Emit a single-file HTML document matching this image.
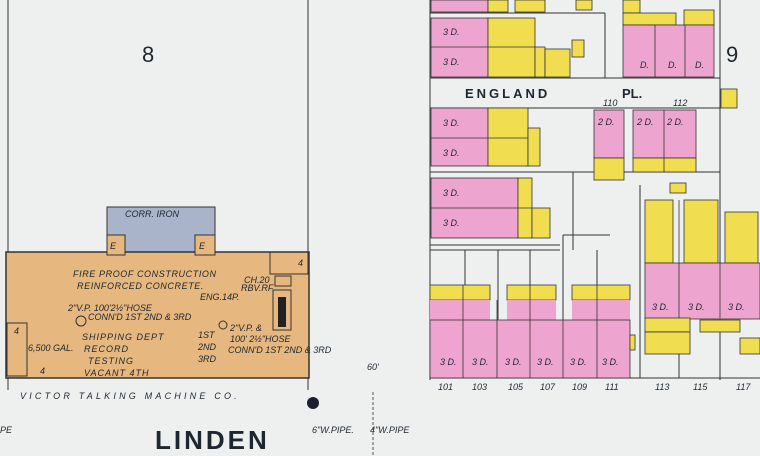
<!DOCTYPE html>
<html><head><meta charset="utf-8"><style>
html,body{margin:0;padding:0;background:#eef0ef;}
svg{display:block}
text{font-family:"Liberation Sans",sans-serif;fill:#1e2630}
.i{font-style:italic;font-size:9px}
</style></head><body>
<svg width="760" height="456" viewBox="0 0 760 456" xmlns="http://www.w3.org/2000/svg">
<rect width="760" height="456" fill="#eef0ef"/>
<g stroke="#333" stroke-width="1" fill="none">
<line x1="8" y1="0" x2="8" y2="390"/>
<line x1="308" y1="0" x2="308" y2="390"/>
<line x1="430" y1="0" x2="430" y2="380"/>
<line x1="720" y1="0" x2="720" y2="380"/>
<line x1="430" y1="13" x2="605" y2="13"/>
<line x1="605" y1="13" x2="605" y2="78"/>
<line x1="430" y1="78" x2="720" y2="78"/>
<line x1="430" y1="108" x2="720" y2="108"/>
<line x1="430" y1="172" x2="720" y2="172"/>
<line x1="573" y1="172" x2="573" y2="250"/>
<line x1="430" y1="245" x2="560" y2="245"/>
<line x1="430" y1="250" x2="560" y2="250"/>
<line x1="563" y1="235" x2="563" y2="250"/>
<line x1="563" y1="235" x2="610" y2="235"/>
<line x1="640" y1="185" x2="640" y2="378"/>
<line x1="679" y1="300" x2="679" y2="378"/>
<line x1="720" y1="300" x2="720" y2="378"/>
<line x1="430" y1="378" x2="760" y2="378"/>
<line x1="465" y1="250" x2="465" y2="285"/>
<line x1="498" y1="250" x2="498" y2="320"/>
<line x1="530" y1="250" x2="530" y2="285"/>
<line x1="563" y1="250" x2="563" y2="320"/>
<line x1="597" y1="250" x2="597" y2="285"/>
</g>
<!-- factory -->
<rect x="107" y="207" width="108" height="46" fill="#a9b3c9" stroke="#333"/>
<rect x="6" y="252" width="303" height="126" fill="#e6b77e" stroke="#333" stroke-width="1.5"/>
<rect x="107" y="235" width="18" height="20" fill="#e6b77e" stroke="#333"/>
<rect x="195" y="235" width="20" height="20" fill="#e6b77e" stroke="#333"/>
<rect x="7" y="323" width="20" height="53" fill="#e6b77e" stroke="#333"/>
<rect x="270" y="252" width="38" height="22" fill="none" stroke="#333"/>
<rect x="275" y="276" width="16" height="10" fill="#e6b77e" stroke="#333"/>
<rect x="273" y="290" width="18" height="40" fill="#e6b77e" stroke="#333"/>
<rect x="278" y="297" width="8" height="30" fill="#222"/>
<circle cx="313" cy="403" r="6" fill="#1a2030"/>
<circle cx="81" cy="321" r="5" fill="none" stroke="#333"/>
<circle cx="223" cy="325" r="4" fill="none" stroke="#333"/>
<text x="142" y="62" font-size="22">8</text>
<text x="726" y="62" font-size="22">9</text>
<text class="i" x="125" y="217">CORR. IRON</text>
<text class="i" x="110" y="249" font-size="10">E</text>
<text class="i" x="199" y="249" font-size="10">E</text>
<text class="i" x="73" y="277" font-size="10" letter-spacing="0.6">FIRE PROOF CONSTRUCTION</text>
<text class="i" x="77" y="289" font-size="10" letter-spacing="0.6">REINFORCED CONCRETE.</text>
<text class="i" x="200" y="300">ENG.14P.</text>
<text class="i" x="244" y="283" font-size="7">CH.20</text>
<text class="i" x="241" y="291" font-size="7">RBV.RF</text>
<text class="i" x="68" y="311" font-size="8">2"V.P. 100'2½"HOSE</text>
<text class="i" x="88" y="320" font-size="8">CONN'D 1ST 2ND &amp; 3RD</text>
<text class="i" x="82" y="340" font-size="11" letter-spacing="1">SHIPPING DEPT</text>
<text class="i" x="84" y="352" font-size="11" letter-spacing="1">RECORD</text>
<text class="i" x="88" y="364" font-size="11" letter-spacing="1">TESTING</text>
<text class="i" x="84" y="376" font-size="11" letter-spacing="1">VACANT 4TH</text>
<text class="i" x="198" y="338" font-size="8">1ST</text>
<text class="i" x="198" y="350" font-size="8">2ND</text>
<text class="i" x="198" y="362" font-size="8">3RD</text>
<text class="i" x="230" y="331" font-size="8">2"V.P. &amp;</text>
<text class="i" x="230" y="342" font-size="8">100' 2½"HOSE</text>
<text class="i" x="228" y="353" font-size="8">CONN'D 1ST 2ND &amp; 3RD</text>
<text class="i" x="14" y="334" font-size="10">4</text>
<text class="i" x="40" y="374" font-size="11">4</text>
<text class="i" x="298" y="266" font-size="11">4</text>
<text class="i" x="28" y="351" font-size="7">6,500 GAL.</text>
<text class="i" x="20" y="399" font-size="13" letter-spacing="3.2">VICTOR TALKING MACHINE CO.</text>
<text x="155" y="449" font-size="26" font-weight="bold" letter-spacing="3">LINDEN</text>
<text class="i" x="312" y="433" font-size="9">6"W.PIPE.</text>
<text class="i" x="370" y="433" font-size="9">4"W.PIPE</text>
<text class="i" x="0" y="433" font-size="9">PE</text>
<text class="i" x="367" y="370" font-size="10">60'</text>
<line x1="373" y1="392" x2="373" y2="456" stroke="#555" stroke-dasharray="3,2"/>
<!-- right area buildings -->
<g stroke="#333" stroke-width="0.8">
<rect x="431" y="0" width="57" height="12" fill="#eda5cf"/>
<rect x="488" y="0" width="20" height="12" fill="#f0de50"/>
<rect x="515" y="0" width="30" height="12" fill="#f0de50"/>
<rect x="576" y="0" width="16" height="10" fill="#f0de50"/>
<rect x="431" y="18" width="57" height="59" fill="#eda5cf"/>
<rect x="488" y="18" width="47" height="59" fill="#f0de50"/>
<rect x="535" y="47" width="10" height="30" fill="#f0de50"/>
<rect x="545" y="49" width="25" height="28" fill="#f0de50"/>
<rect x="572" y="40" width="12" height="17" fill="#f0de50"/>
<rect x="623" y="0" width="17" height="13" fill="#f0de50"/>
<rect x="623" y="13" width="53" height="12" fill="#f0de50"/>
<rect x="684" y="10" width="30" height="15" fill="#f0de50"/>
<rect x="623" y="25" width="91" height="52" fill="#eda5cf"/>
<rect x="721" y="89" width="16" height="19" fill="#f0de50"/>
<rect x="431" y="108" width="57" height="58" fill="#eda5cf"/>
<rect x="488" y="108" width="40" height="58" fill="#f0de50"/>
<rect x="528" y="128" width="12" height="38" fill="#f0de50"/>
<rect x="594" y="110" width="30" height="48" fill="#eda5cf"/>
<rect x="594" y="158" width="30" height="22" fill="#f0de50"/>
<rect x="633" y="110" width="63" height="48" fill="#eda5cf"/>
<rect x="633" y="158" width="63" height="14" fill="#f0de50"/>
<rect x="670" y="183" width="16" height="10" fill="#f0de50"/>
<rect x="431" y="178" width="87" height="60" fill="#eda5cf"/>
<rect x="518" y="178" width="14" height="60" fill="#f0de50"/>
<rect x="532" y="208" width="18" height="30" fill="#f0de50"/>
<rect x="645" y="200" width="28" height="63" fill="#f0de50"/>
<rect x="684" y="200" width="34" height="63" fill="#f0de50"/>
<rect x="725" y="212" width="33" height="51" fill="#f0de50"/>
<rect x="645" y="263" width="115" height="56" fill="#eda5cf"/>
<rect x="645" y="318" width="45" height="14" fill="#f0de50"/>
<rect x="700" y="320" width="40" height="12" fill="#f0de50"/>
<rect x="645" y="332" width="45" height="22" fill="#f0de50"/>
<rect x="740" y="338" width="20" height="16" fill="#f0de50"/>
<rect x="430" y="285" width="60" height="15" fill="#f0de50"/>
<rect x="507" y="285" width="49" height="15" fill="#f0de50"/>
<rect x="572" y="285" width="58" height="15" fill="#f0de50"/>
<rect x="430" y="300" width="60" height="22" fill="#eda5cf" stroke="none"/>
<rect x="507" y="300" width="49" height="22" fill="#eda5cf" stroke="none"/>
<rect x="572" y="300" width="58" height="22" fill="#eda5cf" stroke="none"/>
<rect x="430" y="320" width="200" height="58" fill="#eda5cf"/>
<rect x="630" y="335" width="5" height="15" fill="#f0de50"/>
</g>
<g stroke="#333" stroke-width="0.8">
<line x1="463" y1="285" x2="463" y2="378"/><line x1="497" y1="300" x2="497" y2="378"/>
<line x1="530" y1="285" x2="530" y2="378"/><line x1="563" y1="300" x2="563" y2="378"/>
<line x1="597" y1="285" x2="597" y2="378"/>
<line x1="431" y1="47" x2="535" y2="47"/><line x1="431" y1="138" x2="528" y2="138"/>
<line x1="431" y1="208" x2="532" y2="208"/>
<line x1="655" y1="25" x2="655" y2="77"/><line x1="685" y1="25" x2="685" y2="77"/>
<line x1="664" y1="110" x2="664" y2="172"/>
<line x1="679" y1="200" x2="679" y2="318"/><line x1="720" y1="212" x2="720" y2="318"/>
</g>
<g font-size="9">
<text x="465" y="98" font-size="13" font-weight="bold" letter-spacing="3">ENGLAND</text>
<text x="622" y="98" font-size="13" font-weight="bold">PL.</text>
<text class="i" x="603" y="106" font-size="8">110</text><text class="i" x="673" y="106" font-size="8">112</text>
<text class="i" x="438" y="390" font-size="8">101</text><text class="i" x="472" y="390" font-size="8">103</text>
<text class="i" x="508" y="390" font-size="8">105</text><text class="i" x="540" y="390" font-size="8">107</text>
<text class="i" x="572" y="390" font-size="8">109</text><text class="i" x="605" y="390" font-size="8">111</text>
<text class="i" x="655" y="390" font-size="8">113</text><text class="i" x="693" y="390" font-size="8">115</text>
<text class="i" x="736" y="390" font-size="8">117</text>
<text class="i" x="443" y="35">3 D.</text><text class="i" x="443" y="65">3 D.</text>
<text class="i" x="443" y="126">3 D.</text><text class="i" x="443" y="156">3 D.</text>
<text class="i" x="443" y="196">3 D.</text><text class="i" x="443" y="226">3 D.</text>
<text class="i" x="640" y="68">D.</text><text class="i" x="668" y="68">D.</text><text class="i" x="695" y="68">D.</text>
<text class="i" x="598" y="125">2 D.</text><text class="i" x="637" y="125">2 D.</text><text class="i" x="667" y="125">2 D.</text>
<text class="i" x="440" y="365">3 D.</text><text class="i" x="472" y="365">3 D.</text><text class="i" x="505" y="365">3 D.</text>
<text class="i" x="537" y="365">3 D.</text><text class="i" x="570" y="365">3 D.</text><text class="i" x="602" y="365">3 D.</text>
<text class="i" x="652" y="310">3 D.</text><text class="i" x="688" y="310">3 D.</text><text class="i" x="728" y="310">3 D.</text>
</g>
</svg>
</body></html>
